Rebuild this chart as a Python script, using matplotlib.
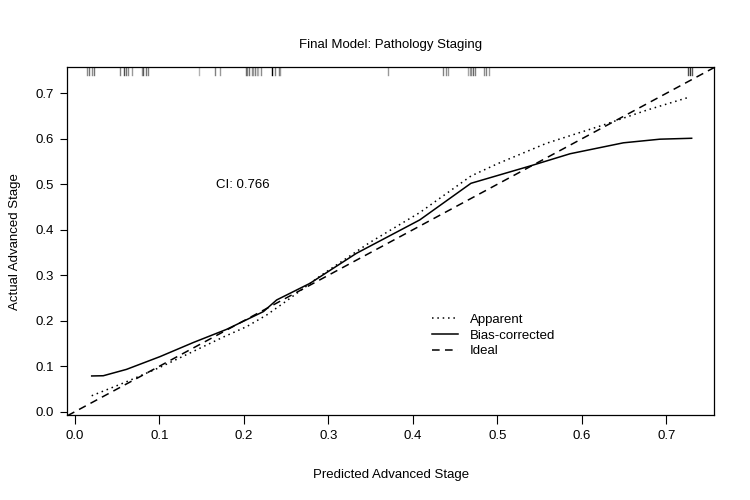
import numpy as np
import matplotlib.pyplot as plt

plt.rcParams['font.family'] = ['Liberation Sans', 'DejaVu Sans']

# calibration curves
app_x = [0.0198, 0.06, 0.10, 0.1755, 0.2032, 0.2269, 0.25, 0.29, 0.349, 0.408, 0.4686, 0.50, 0.558, 0.625, 0.677, 0.728]
app_y = [0.0350, 0.065, 0.097, 0.164, 0.187, 0.2126, 0.243, 0.298, 0.372, 0.4376, 0.518, 0.545, 0.590, 0.630, 0.663, 0.692]

bias_x = [0.0198, 0.0335, 0.061, 0.1006, 0.14, 0.1795, 0.223, 0.2387, 0.278, 0.333, 0.408, 0.4686, 0.5385, 0.586, 0.649, 0.6923, 0.7298]
bias_y = [0.0785, 0.079, 0.093, 0.121, 0.152, 0.181, 0.220, 0.2456, 0.282, 0.348, 0.4215, 0.502, 0.540, 0.567, 0.591, 0.599, 0.601]

# rug of predicted values along the top, with grey level
rug_x = [0.014, 0.017, 0.020, 0.023, 0.053, 0.058, 0.060, 0.063, 0.067, 0.079, 0.081,
         0.084, 0.087, 0.147, 0.166, 0.172, 0.202, 0.204, 0.206, 0.209, 0.211, 0.213,
         0.215, 0.217, 0.220, 0.233, 0.237, 0.241, 0.243, 0.371, 0.436, 0.439, 0.442,
         0.465, 0.467, 0.469, 0.471, 0.474, 0.484, 0.487, 0.490, 0.726, 0.728, 0.730]
rug_grey = [0.55, 0.45, 0.55, 0.45, 0.5, 0.3, 0.45, 0.55, 0.6, 0.6, 0.35, 0.45, 0.5,
            0.7, 0.5, 0.6, 0.4, 0.5, 0.45, 0.55, 0.6, 0.5, 0.65, 0.7, 0.55, 0.0, 0.5,
            0.45, 0.6, 0.6, 0.5, 0.55, 0.6, 0.65, 0.6, 0.55, 0.4, 0.5, 0.55, 0.5, 0.6,
            0.3, 0.2, 0.35]

fig = plt.figure(figsize=(7.5, 5), dpi=100)
ax = fig.add_axes([0.0897, 0.17, 0.8627, 0.6954])

ax.plot(app_x, app_y, color='black', lw=1.1, linestyle=(0, (1, 2.5)), label='Apparent')
ax.plot(bias_x, bias_y, color='black', lw=1.1, label='Bias-corrected')
ax.plot([-0.1, 1], [-0.1, 1], color='black', lw=1.1, linestyle=(0, (5, 3.5)), label='Ideal')

for rx, g in zip(rug_x, rug_grey):
    ax.plot([rx, rx], [0.757, 0.739], color=str(g), lw=1.0)

ax.set_xlim(-0.0091, 0.7566)
ax.set_ylim(-0.0073, 0.757)
ax.set_xticks(np.arange(0, 0.71, 0.1))
ax.set_yticks(np.arange(0, 0.71, 0.1))
ax.set_xticklabels(['0.0', '0.1', '0.2', '0.3', '0.4', '0.5', '0.6', '0.7'])
ax.set_yticklabels(['0.0', '0.1', '0.2', '0.3', '0.4', '0.5', '0.6', '0.7'])
ax.tick_params(axis='x', direction='out', length=6.5, width=0.8, labelsize=9.5, pad=4.5)
ax.tick_params(axis='y', direction='out', length=5.3, width=0.8, labelsize=9.5, pad=4.5)
for s in ax.spines.values():
    s.set_linewidth(0.9)

ax.text(0.1988, 0.4985, 'CI: 0.766', ha='center', va='center', fontsize=9.5)

ax.set_title('Final Model: Pathology Staging', fontsize=9.5, pad=14)
ax.set_xlabel('Predicted Advanced Stage', fontsize=9.5, labelpad=19.5)
ax.set_ylabel('Actual Advanced Stage', fontsize=9.5, labelpad=10.5)

ax.legend(loc='upper left', bbox_to_anchor=(0.545, 0.325), frameon=False, fontsize=9.5,
          handlelength=2.0, handletextpad=0.9, labelspacing=0.25)

fig.savefig('out.png', dpi=100)
